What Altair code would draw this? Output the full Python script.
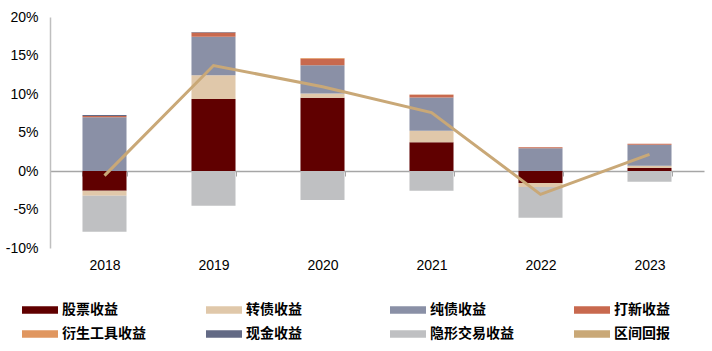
import altair as alt
import pandas as pd

years = ["2018", "2019", "2020", "2021", "2022", "2023"]
series_names = ["股票收益", "转债收益", "纯债收益", "打新收益",
                "衍生工具收益", "现金收益", "隐形交易收益", "区间回报"]
series_colors = ["#600000", "#e0c8aa", "#8a90a6", "#c8694e",
                 "#e0965f", "#636a85", "#bfc0c2", "#c9a877"]
y_ticks = [-0.1, -0.05, 0, 0.05, 0.1, 0.15, 0.2]

# values in percent
stock = [-2.55, 9.35, 9.52, 3.72, -1.56, 0.39]
convertible = [-0.65, 3.07, 0.56, 1.50, -0.52, 0.30]
pure_bond = [6.97, 5.02, 3.64, 4.33, 2.94, 2.73]
ipo = [0.17, 0.56, 0.87, 0.35, 0.13, 0.13]
derivative = [0.0, 0.0, 0.10, 0.05, 0.0, 0.0]
cash = [0.13, 0.05, 0.0, 0.0, 0.0, 0.0]
hidden = [-4.70, -4.50, -3.77, -2.55, -3.98, -1.39]
period_return = [-0.60, 13.70, 10.95, 7.58, -3.03, 2.16]

bar_series = [stock, convertible, pure_bond, ipo, derivative, cash, hidden]

rows = []
for k, vals in enumerate(bar_series):
    for y, v in zip(years, vals):
        rows.append({"year": y, "series": series_names[k], "value": v / 100, "order": k})
df_bars = pd.DataFrame(rows)
df_line = pd.DataFrame({"year": years, "series": "区间回报",
                        "value": [v / 100 for v in period_return]})

x_axis = alt.Axis(title=None, labelAngle=0, domainColor="#a6a6a6", domainWidth=1.5,
                  tickColor="#a6a6a6", tickSize=5, tickBand="extent", offset=-77,
                  labelPadding=82, labelFontSize=14, labelFont="Liberation Sans",
                  labelColor="#000000")
x_scale = alt.Scale(paddingInner=0.596, paddingOuter=0.298)
y_scale = alt.Scale(domain=[-0.1, 0.2], nice=False, zero=False)
y_axis = alt.Axis(title=None, values=y_ticks,
                  labelExpr="(datum.value < 0 ? '-' : '') + format(abs(datum.value), '.0%')",
                  grid=False, ticks=False, domainColor="#bfbfbf", domainWidth=1.5,
                  labelPadding=12, labelFontSize=14, labelFont="Liberation Sans",
                  labelColor="#000000", labelOverlap=False, labelBound=False,
                  labelFlush=False)

legend = alt.Legend(
    title=None, orient="none", legendX=-19, legendY=284, direction="horizontal",
    columns=4, gridAlign="all", columnPadding=60, rowPadding=8, padding=0,
    symbolType="M-2,-0.42H2V0.42H-2Z", symbolSize=324, symbolStrokeWidth=0,
    symbolOpacity=1, labelOffset=13, labelFontSize=14, labelFont="Noto Sans CJK SC",
    labelFontWeight="bold", labelColor="#000000", labelLimit=200,
)
color_enc = alt.Color("series:N", scale=alt.Scale(domain=series_names, range=series_colors),
                      legend=legend)

bars = alt.Chart(df_bars).mark_bar(strokeWidth=0).encode(
    x=alt.X("year:N", sort=years, scale=x_scale, axis=x_axis),
    y=alt.Y("value:Q", stack="zero", scale=y_scale, axis=y_axis),
    color=color_enc,
    order=alt.Order("order:Q"),
)

line = alt.Chart(df_line).mark_line(strokeWidth=3, strokeJoin="miter").encode(
    x=alt.X("year:N", sort=years, scale=x_scale, axis=x_axis),
    y=alt.Y("value:Q", scale=y_scale, axis=y_axis),
    color=color_enc,
)

chart = alt.layer(bars, line).properties(
    width=654, height=231,
    padding={"left": 50, "top": 17, "right": 8, "bottom": 103},
    autosize="none",
).configure_view(stroke=None)

chart.save("out.html", embed_options={"renderer": "svg", "actions": False})
